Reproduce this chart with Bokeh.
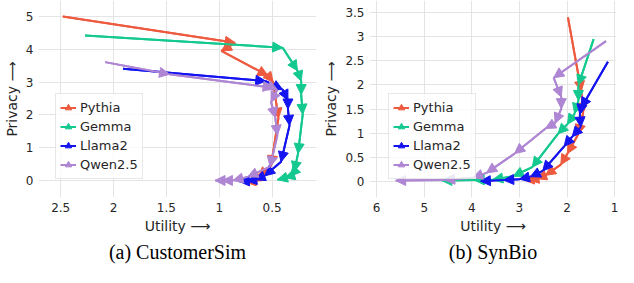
import numpy as np
from bokeh.plotting import figure
from bokeh.models import (ColumnDataSource, Arrow, NormalHead, Range1d, FixedTicker,
                          NumeralTickFormatter, Legend, LegendItem, Title)
from bokeh.layouts import row
from bokeh.embed import file_html
from bokeh.resources import INLINE

series_names = ["Pythia", "Gemma", "Llama2", "Qwen2.5"]
series_colors = ["#EE5A3F", "#14C98F", "#1414F0", "#AE86D3"]

# ---- (a) CustomerSim : utility (x) / privacy (y) ----
cs_pythia_x = [2.48, 0.85, 0.98, 0.54, 0.49, 0.44, 0.51, 0.63, 0.70, 0.75]
cs_pythia_y = [5.00, 4.20, 3.95, 3.20, 3.00, 1.90, 0.45, 0.10, -0.03, -0.05]
cs_gemma_x = [2.27, 0.40, 0.26, 0.225, 0.225, 0.21, 0.255, 0.29, 0.33, 0.38, 0.45]
cs_gemma_y = [4.42, 4.05, 3.35, 3.03, 2.62, 2.02, 0.82, 0.27, 0.13, 0.08, 0.02]
cs_llama_x = [1.91, 0.56, 0.40, 0.35, 0.35, 0.335, 0.415, 0.57, 0.66, 0.74, 0.81]
cs_llama_y = [3.41, 3.03, 2.77, 2.45, 2.18, 1.68, 0.57, 0.14, 0.02, -0.02, -0.03]
cs_qwen_x = [2.08, 1.47, 0.49, 0.45, 0.51, 0.47, 0.45, 0.52, 0.73, 0.87, 0.97, 1.04]
cs_qwen_y = [3.61, 3.24, 2.83, 2.77, 2.39, 1.92, 1.38, 0.42, 0.11, 0.0, 0.0, 0.0]

# ---- (b) SynBio ----
sb_pythia_x = [1.98, 1.70, 1.66, 1.77, 1.99, 2.13, 2.45, 2.64, 2.80, 2.90]
sb_pythia_y = [3.40, 1.87, 1.42, 0.97, 0.58, 0.35, 0.13, 0.06, 0.04, 0.03]
sb_gemma_x = [1.44, 1.76, 1.76, 1.84, 1.99, 2.19, 2.73, 3.13, 3.56, 3.95, 4.63]
sb_gemma_y = [2.95, 2.00, 1.68, 1.41, 1.19, 0.99, 0.30, 0.11, 0.04, 0.03, 0.02]
sb_llama_x = [1.14, 1.70, 1.73, 1.71, 1.89, 2.06, 2.51, 2.77, 3.00, 3.33, 3.82]
sb_llama_y = [2.48, 1.53, 1.39, 1.13, 0.93, 0.73, 0.22, 0.10, 0.05, 0.03, 0.01]
sb_qwen_x = [1.18, 2.28, 2.12, 2.12, 2.25, 2.45, 3.10, 3.69, 3.98, 4.57, 5.60]
sb_qwen_y = [2.91, 2.15, 1.75, 1.51, 1.21, 1.10, 0.58, 0.18, 0.08, 0.03, 0.02]

cs_x_ticks = [0.5, 1, 1.5, 2, 2.5]
cs_y_ticks = [0, 1, 2, 3, 4, 5]
sb_x_ticks = [1, 2, 3, 4, 5, 6]
sb_y_ticks = [0, 0.5, 1, 1.5, 2, 2.5, 3, 3.5]

FONT = "DejaVu Sans"
TXT = "#262626"


def make_panel(series, x_range, y_range, xt, yt, caption, width, mbl, mbr, legend_loc):
    p = figure(width=width, height=267, x_range=Range1d(*x_range), y_range=Range1d(*y_range),
               output_backend="svg", toolbar_location=None,
               min_border_left=mbl, min_border_right=mbr, min_border_top=0,
               min_border_bottom=70)
    p.outline_line_color = None
    p.background_fill_color = "white"
    p.xaxis.ticker = FixedTicker(ticks=xt)
    p.yaxis.ticker = FixedTicker(ticks=yt)
    p.xaxis.formatter = NumeralTickFormatter(format="0.[0]")
    p.yaxis.formatter = NumeralTickFormatter(format="0.[0]")
    for ax in (p.xaxis, p.yaxis):
        ax.axis_line_color = None
        ax.major_tick_line_color = None
        ax.minor_tick_line_color = None
        ax.major_tick_out = 0
        ax.minor_tick_out = 0
        ax.major_label_text_font = FONT
        ax.major_label_text_font_size = "12px"
        ax.major_label_text_color = TXT
        ax.axis_label_text_font = FONT
        ax.axis_label_text_font_size = "14px"
        ax.axis_label_text_font_style = "normal"
        ax.axis_label_text_color = TXT
        ax.major_label_standoff = 5
        ax.axis_label_standoff = 3
    p.xaxis.axis_label = "Utility \u27f6"
    p.yaxis.axis_label = "Privacy \u27f6"
    p.grid.grid_line_color = "#e4e4e4"
    p.grid.grid_line_width = 1

    items = []
    for (name, color, xs, ys) in series:
        lr = p.line(xs, ys, line_color=color, line_width=2)
        mr = p.scatter(x=[float("nan")], y=[float("nan")], marker="triangle",
                       angle=-np.pi / 2, size=9, fill_color=color, line_color=color)
        src = ColumnDataSource(dict(x0=xs[:-1], y0=ys[:-1], x1=xs[1:], y1=ys[1:]))
        p.add_layout(Arrow(x_start="x0", y_start="y0", x_end="x1", y_end="y1", source=src,
                           line_color=color, line_width=2,
                           end=NormalHead(size=10, fill_color=color, line_color=color,
                                          line_width=1)))
        items.append(LegendItem(label=name, renderers=[lr, mr]))

    legend = Legend(items=items, location=legend_loc,
                    label_text_font=FONT, label_text_font_size="13px",
                    label_text_color=TXT, label_height=19, glyph_height=19,
                    glyph_width=16, spacing=0, padding=4, margin=0, label_standoff=4,
                    border_line_color="#d0d0d0", border_line_width=1,
                    background_fill_color="white", background_fill_alpha=0.8)
    p.add_layout(legend)
    p.add_layout(Title(text=caption, align="center", text_font="Liberation Serif",
                       text_font_size="20px", text_font_style="normal",
                       text_color="black", standoff=5), "below")
    return p


cs_series = [
    (series_names[0], series_colors[0], cs_pythia_x, cs_pythia_y),
    (series_names[1], series_colors[1], cs_gemma_x, cs_gemma_y),
    (series_names[2], series_colors[2], cs_llama_x, cs_llama_y),
    (series_names[3], series_colors[3], cs_qwen_x, cs_qwen_y),
]
sb_series = [
    (series_names[0], series_colors[0], sb_pythia_x, sb_pythia_y),
    (series_names[1], series_colors[1], sb_gemma_x, sb_gemma_y),
    (series_names[2], series_colors[2], sb_llama_x, sb_llama_y),
    (series_names[3], series_colors[3], sb_qwen_x, sb_qwen_y),
]

p1 = make_panel(cs_series, (2.71, 0.08), (-0.52, 5.49), cs_x_ticks, cs_y_ticks,
                "(a) CustomerSim", 320, 34, 4, (17, 18))
p2 = make_panel(sb_series, (6.15, 0.96), (-0.33, 3.75), sb_x_ticks, sb_y_ticks,
                "(b) SynBio", 298, 48, 2, (19, 18))

layout = row(p1, p2)
open("out.html", "w").write(file_html(layout, INLINE))
